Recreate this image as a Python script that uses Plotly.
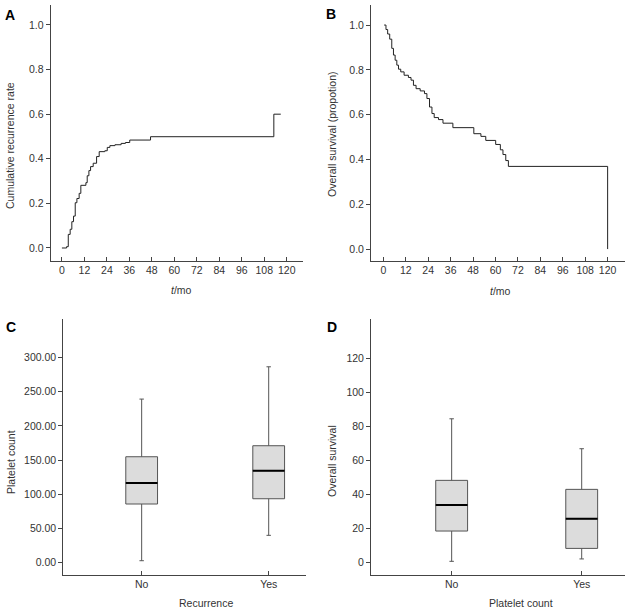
"""Four-panel figure: recurrence / survival curves and platelet boxplots."""
import plotly.graph_objects as go

# Panel A: cumulative recurrence (step curve)
rec_months = [0, 2.5, 3.4, 4.4, 5.3, 6.2, 7.1, 8.0, 9.2, 10.1, 12.8, 13.5, 14.4, 15.3,
              16.7, 18.5, 19.9, 22.9, 24.2, 25.6, 28.3, 31.6, 33.9, 36.2, 47.3, 113.1, 116.8]
rec_rate = [0, 0.006, 0.061, 0.084, 0.118, 0.143, 0.203, 0.222, 0.245, 0.281, 0.293, 0.324,
            0.347, 0.365, 0.380, 0.410, 0.432, 0.436, 0.451, 0.459, 0.463, 0.469, 0.473,
            0.484, 0.499, 0.60, 0.60]

# Panel B: overall survival (step curve)
os_months = [0.4, 1.4, 2.3, 3.4, 4.5, 5.4, 6.3, 7.2, 8.1, 9.3, 11.1, 13.4, 14.8, 16.1, 17.5,
             19.7, 22.0, 23.3, 24.7, 26.0, 27.2, 29.5, 31.9, 37.2, 48.4, 52.2, 54.8, 60.1,
             62.6, 64.0, 65.5, 66.9, 120, 120]
os_prop = [1.0, 0.98, 0.96, 0.937, 0.896, 0.866, 0.843, 0.821, 0.803, 0.791, 0.776, 0.766,
           0.754, 0.731, 0.716, 0.706, 0.694, 0.672, 0.634, 0.605, 0.587, 0.578, 0.562,
           0.542, 0.515, 0.503, 0.485, 0.467, 0.443, 0.422, 0.395, 0.369, 0.369, 0.0]

# Panels C and D: box summaries
groups = ["No", "Yes"]
plt_q1 = [85.8, 93.5]
plt_median = [116.5, 134.4]
plt_q3 = [154.9, 171.0]
plt_low = [2.9, 40.0]
plt_high = [239.2, 286.4]

surv_q1 = [18.6, 8.4]
surv_median = [33.9, 25.8]
surv_q3 = [48.4, 43.1]
surv_low = [0.8, 2.2]
surv_high = [84.6, 67.0]

FONT = "Liberation Sans"
TXT = "#333333"
AX = "#444444"

fig = go.Figure()

fig.add_trace(go.Scatter(x=rec_months, y=rec_rate, mode="lines", line_shape="hv",
                         line=dict(color="#222222", width=1), xaxis="x", yaxis="y"))
fig.add_trace(go.Scatter(x=os_months, y=os_prop, mode="lines", line_shape="hv",
                         line=dict(color="#222222", width=1), xaxis="x2", yaxis="y2"))


def add_boxes(q1, med, q3, lo, hi, width, xa, ya):
    for i in range(len(groups)):
        fig.add_trace(go.Box(x=[i], q1=[q1[i]], median=[med[i]], q3=[q3[i]],
                             lowerfence=[lo[i]], upperfence=[hi[i]], width=width,
                             whiskerwidth=0.14, boxpoints=False,
                             fillcolor="#dcdcdc", line=dict(color="#555555", width=1),
                             xaxis=xa, yaxis=ya))
        fig.add_trace(go.Scatter(x=[i - width / 2, i + width / 2], y=[med[i], med[i]],
                                 mode="lines", line=dict(color="#000000", width=2),
                                 xaxis=xa, yaxis=ya))


add_boxes(plt_q1, plt_median, plt_q3, plt_low, plt_high, 0.25, "x3", "y3")
add_boxes(surv_q1, surv_median, surv_q3, surv_low, surv_high, 0.245, "x4", "y4")

xbase = dict(showline=True, linecolor=AX, linewidth=1, ticks="inside", ticklen=4,
             tickcolor=AX, showgrid=False, zeroline=False, mirror=False, automargin=False,
             tickfont=dict(family=FONT, size=10.5, color=TXT))
ybase = dict(showline=True, linecolor=AX, linewidth=1, ticks="outside", ticklen=4,
             tickcolor=AX, showgrid=False, zeroline=False, mirror=False, automargin=False,
             tickfont=dict(family=FONT, size=10.5, color=TXT))

month_ticks = list(range(0, 121, 12))
top_dom = [0.574, 0.992]
bot_dom = [0.061, 0.478]

fig.update_layout(
    width=631, height=612,
    margin=dict(l=0, r=0, t=0, b=0, autoexpand=False),
    paper_bgcolor="white", plot_bgcolor="white",
    showlegend=False,
    xaxis=dict(xbase, domain=[0.0803, 0.480], range=[-6.0, 128.6], tickvals=month_ticks,
               anchor="y"),
    yaxis=dict(ybase, domain=top_dom, range=[-0.057, 1.09], tickvals=[0, 0.2, 0.4, 0.6, 0.8, 1.0],
               tickformat=".1f", anchor="x"),
    xaxis2=dict(xbase, domain=[0.588, 0.9905], range=[-6.6, 129.3], tickvals=month_ticks,
                anchor="y2"),
    yaxis2=dict(ybase, domain=top_dom, range=[-0.052, 1.09], tickvals=[0, 0.2, 0.4, 0.6, 0.8, 1.0],
                tickformat=".1f", anchor="x2"),
    xaxis3=dict(xbase, domain=[0.1003, 0.485], range=[-0.617, 1.294], tickvals=[0, 1],
                ticktext=groups, anchor="y3"),
    yaxis3=dict(ybase, domain=bot_dom, range=[-17.5, 355.6], tickvals=list(range(0, 301, 50)),
                tickformat=".2f", anchor="x3"),
    xaxis4=dict(xbase, domain=[0.588, 0.9905], range=[-0.62, 1.333], tickvals=[0, 1],
                ticktext=groups, anchor="y4"),
    yaxis4=dict(ybase, domain=bot_dom, range=[-7.05, 143], tickvals=list(range(0, 121, 20)),
                anchor="x4"),
)

W, H = 631, 612


def label(text, px, py, angle=0, size=10.5, bold=False):
    fig.add_annotation(text=f"<b>{text}</b>" if bold else text,
                       x=px / W, y=1 - py / H, xref="paper", yref="paper",
                       xanchor="center", yanchor="middle",
                       showarrow=False, textangle=angle,
                       font=dict(family=FONT, size=size, color=TXT if not bold else "#000"))


# axis titles
label("Cumulative recurrence rate", 10, 146, angle=-90)
label("<i>t</i>/mo", 181, 290)
label("Overall survival (propotion)", 332, 135, angle=-90)
label("<i>t</i>/mo", 500, 291)
label("Platelet count", 11, 462, angle=-90)
label("Recurrence", 206, 603)
label("Overall survival", 332, 461, angle=-90)
label("Platelet count", 521, 603)

# panel letters
label("A", 10, 15, size=14, bold=True)
label("B", 331, 14, size=14, bold=True)
label("C", 11, 327, size=14, bold=True)
label("D", 332, 327, size=14, bold=True)

# the page body has a default 8px margin; drop it so the figure sits at the window corner
fig.write_html("out.html", config={"displayModeBar": False},
               post_script="document.body.style.margin='0';")
